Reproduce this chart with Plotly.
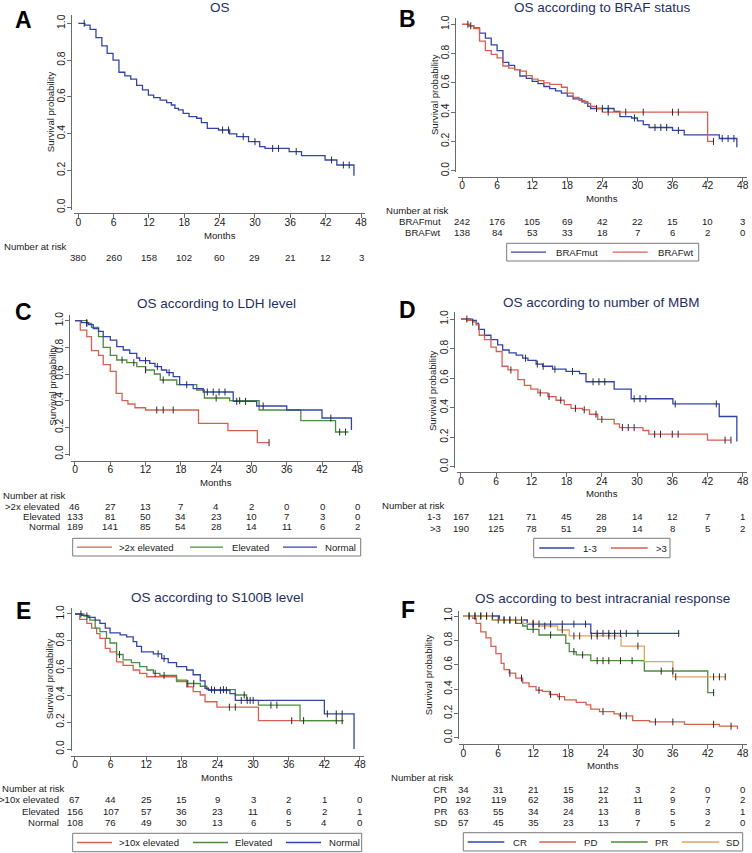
import numpy as np
import plotly.graph_objects as go

W, H = 752, 853
FONT = "Liberation Sans, Arial, Helvetica, sans-serif"
BLUE = '#3245a6'
RED = '#d6604f'
GREEN = '#4d8b3d'
ORANGE = '#e2a35e'
TITLE_C = '#1f2f5f'
INK = '#1a1a1a'
AXC = '#6a6a6a'
CENS = '#2a2a3a'

month_ticks = [0, 6, 12, 18, 24, 30, 36, 42, 48]
surv_ticks = [0.0, 0.2, 0.4, 0.6, 0.8, 1.0]
surv_labels = ['0.0', '0.2', '0.4', '0.6', '0.8', '1.0']

# ---------------- Panel A: OS ----------------
a_t = [0, 1.1, 2.0, 3.0, 4.0, 4.9, 5.9, 6.9, 7.9, 8.9, 9.9, 10.9, 11.9, 12.8, 13.9, 15.0, 15.8, 16.4, 17.0,
       17.8, 18.8, 20.1, 20.9, 21.9, 23.8, 25.7, 26.9, 28.9, 30.8, 31.7, 35.8, 37.9, 41.9, 43.9, 46.8, 46.8]
a_s = [1.0, 0.99, 0.967, 0.922, 0.877, 0.837, 0.80, 0.734, 0.714, 0.697, 0.663, 0.638, 0.61, 0.596, 0.583,
       0.569, 0.556, 0.538, 0.529, 0.511, 0.493, 0.484, 0.46, 0.429, 0.42, 0.399, 0.384, 0.357, 0.33, 0.32,
       0.303, 0.281, 0.257, 0.23, 0.23, 0.172]
a_cens = [1.0, 24.5, 25.5, 28.0, 30.0, 33.0, 34.0, 37.0, 43.0, 45.0, 46.0]
a_risk = [380, 260, 158, 102, 60, 29, 21, 12, 3]

# ---------------- Panel B: BRAF ----------------
b_mut_t = [0, 1.2, 2, 3, 4, 5, 6, 7, 8, 9, 9.9, 11, 12, 13, 14, 15, 16, 17, 18, 19, 20.5, 21.5, 22, 26, 27,
           29, 30, 31, 32, 36, 38, 44, 47, 47]
b_mut_s = [1.0, 0.99, 0.975, 0.94, 0.905, 0.86, 0.82, 0.74, 0.72, 0.69, 0.647, 0.63, 0.61, 0.595, 0.575,
           0.56, 0.545, 0.53, 0.51, 0.49, 0.47, 0.44, 0.425, 0.405, 0.37, 0.36, 0.34, 0.315, 0.295, 0.275,
           0.245, 0.22, 0.22, 0.16]
b_mut_cens = [1.0, 23.0, 24.0, 25.0, 29.5, 33.0, 34.0, 35.0, 37.0, 44.5, 45.5, 46.5]
b_wt_t = [0, 1.2, 2, 3, 4, 5, 6, 7, 8, 9, 10, 11, 12, 13, 14, 15, 17, 18, 19, 20, 21, 22, 23, 24, 42, 43]
b_wt_s = [1.0, 0.99, 0.97, 0.885, 0.82, 0.795, 0.77, 0.715, 0.70, 0.69, 0.68, 0.65, 0.625, 0.615, 0.60,
          0.59, 0.57, 0.53, 0.50, 0.48, 0.46, 0.44, 0.425, 0.40, 0.20, 0.20]
b_wt_cens = [1.5, 25.0, 28.0, 31.0, 36.0, 37.0, 43.0]
b_risk_mut = [242, 176, 105, 69, 42, 22, 15, 10, 3]
b_risk_wt = [138, 84, 53, 33, 18, 7, 6, 2, 0]

# ---------------- Panel C: LDH ----------------
c_hi_t = [0, 0.9, 2.0, 2.8, 4.0, 4.8, 6.0, 7.0, 8.0, 9.0, 10.2, 12.0, 21.0, 26.0, 31.0, 33.0]
c_hi_s = [1.0, 0.93, 0.88, 0.775, 0.74, 0.67, 0.62, 0.455, 0.40, 0.375, 0.347, 0.33, 0.23, 0.175, 0.085, 0.085]
c_hi_cens = [13.9, 15.0, 16.7, 33.0]
c_el_t = [0, 2.0, 2.8, 4.0, 4.8, 6.0, 7.1, 8.8, 10.5, 12.0, 13.5, 14.5, 17.3, 20.7, 22.0, 26.3, 31.3,
          38.4, 44.3, 46.5]
c_el_s = [1.0, 0.98, 0.95, 0.88, 0.80, 0.74, 0.705, 0.685, 0.655, 0.63, 0.60, 0.555, 0.52, 0.48, 0.42,
          0.40, 0.33, 0.25, 0.165, 0.165]
c_el_cens = [2.0, 8.0, 10.0, 12.0, 15.0, 19.0, 24.0, 28.0, 45.0, 46.0]
c_no_t = [0, 1.1, 2.3, 3.1, 4.0, 4.8, 6.0, 7.1, 8.2, 9.3, 10.5, 11.0, 12.7, 13.6, 14.7, 15.6, 16.7, 17.8,
          20.1, 21.8, 26.9, 30.9, 36.0, 42.0, 47.0, 47.0]
c_no_s = [1.0, 0.985, 0.97, 0.94, 0.92, 0.88, 0.855, 0.805, 0.78, 0.755, 0.72, 0.70, 0.68, 0.655, 0.63,
          0.61, 0.58, 0.52, 0.49, 0.465, 0.395, 0.36, 0.33, 0.27, 0.27, 0.18]
c_no_cens = [2.0, 12.0, 14.0, 16.0, 22.5, 23.5, 24.5, 25.5, 27.5, 29.0, 32.0, 43.5]
c_risk_hi = [46, 27, 13, 7, 4, 2, 0, 0, 0]
c_risk_el = [133, 81, 50, 34, 23, 10, 7, 3, 0]
c_risk_no = [189, 141, 85, 54, 28, 14, 11, 6, 2]

# ---------------- Panel D: number of MBM ----------------
d_13_t = [0, 1.7, 2.6, 3.0, 4.0, 5.1, 6.25, 7.1, 8.2, 9.4, 10.5, 11.4, 12.8, 13.9, 15.6, 17.9, 20.2, 21.3,
          26.1, 29.0, 36.1, 44.0, 47.0, 47.0]
d_13_s = [1.0, 0.99, 0.97, 0.93, 0.89, 0.86, 0.825, 0.79, 0.77, 0.755, 0.735, 0.72, 0.695, 0.68, 0.66,
          0.645, 0.63, 0.575, 0.525, 0.46, 0.425, 0.34, 0.34, 0.17]
d_13_cens = [1.0, 11.0, 13.0, 14.0, 16.0, 19.0, 22.5, 23.5, 24.5, 29.5, 30.5, 31.5, 36.5, 43.5]
d_gt3_t = [0, 1.0, 2.0, 2.6, 3.1, 4.0, 5.1, 6.0, 7.0, 8.0, 9.7, 10.8, 11.9, 13.1, 14.8, 16.2, 17.6, 18.75,
           20.7, 21.9, 23.3, 26.1, 27.0, 31.0, 32.0, 42.0, 46.0]
d_gt3_s = [1.0, 0.99, 0.98, 0.96, 0.89, 0.86, 0.81, 0.78, 0.68, 0.655, 0.59, 0.55, 0.525, 0.50, 0.475,
           0.45, 0.42, 0.395, 0.385, 0.355, 0.32, 0.29, 0.265, 0.245, 0.22, 0.18, 0.18]
d_gt3_cens = [2.0, 8.5, 13.5, 15.0, 17.0, 19.5, 21.0, 23.0, 24.0, 27.5, 28.5, 29.5, 33.0, 34.0, 36.0, 37.0,
              45.0, 46.0]
d_risk_13 = [167, 121, 71, 45, 28, 14, 12, 7, 1]
d_risk_gt3 = [190, 125, 78, 51, 29, 14, 8, 5, 2]

# ---------------- Panel E: S100B ----------------
e_hi_t = [0, 0.8, 2.0, 2.8, 3.65, 4.2, 5.1, 5.9, 7.0, 8.1, 9.8, 10.9, 12.1, 17.1, 18.8, 19.9, 21.1, 21.9,
          23.9, 30.9, 45.2]
e_hi_s = [1.0, 0.96, 0.93, 0.895, 0.855, 0.82, 0.745, 0.72, 0.645, 0.62, 0.585, 0.56, 0.535, 0.50, 0.46,
          0.425, 0.40, 0.35, 0.31, 0.21, 0.21]
e_hi_cens = [26.0, 27.0, 36.5, 45.0]
e_el_t = [0, 1.5, 2.5, 3.4, 4.2, 5.3, 5.9, 7.0, 8.1, 9.5, 10.9, 12.1, 13.2, 14.3, 17.1, 18.8, 21.1, 22.2,
          27.0, 28.9, 30.9, 37.9, 45.2]
e_el_s = [1.0, 0.985, 0.955, 0.895, 0.87, 0.82, 0.785, 0.70, 0.66, 0.64, 0.61, 0.585, 0.56, 0.545, 0.51,
          0.485, 0.465, 0.44, 0.40, 0.36, 0.325, 0.21, 0.21]
e_el_cens = [2.0, 7.5, 13.5, 15.0, 19.0, 20.0, 23.0, 25.0, 28.5, 29.5, 33.0, 34.0, 38.5, 44.0]
e_no_t = [0, 1.1, 2.2, 3.4, 4.2, 5.1, 5.9, 7.6, 8.7, 9.8, 10.4, 11.2, 13.2, 14.6, 15.7, 17.1, 18.8, 19.9,
          21.1, 21.9, 22.5, 26.1, 27.0, 42.0, 47.0, 47.0]
e_no_s = [1.0, 0.99, 0.975, 0.955, 0.93, 0.895, 0.86, 0.845, 0.83, 0.795, 0.76, 0.72, 0.705, 0.67, 0.64,
          0.61, 0.585, 0.55, 0.505, 0.45, 0.435, 0.41, 0.36, 0.26, 0.26, 0.0]
e_no_cens = [1.0, 14.0, 15.0, 23.5, 24.5, 25.5, 28.0, 29.0, 30.0, 42.5, 44.0, 45.0]
e_risk_hi = [67, 44, 25, 15, 9, 3, 2, 1, 0]
e_risk_el = [156, 107, 57, 36, 23, 11, 6, 2, 1]
e_risk_no = [108, 76, 49, 30, 13, 6, 5, 4, 0]

# ---------------- Panel F: best intracranial response ----------------
f_cr_t = [0, 6.2, 11.0, 21.9, 37.1]
f_cr_s = [1.0, 0.967, 0.934, 0.857, 0.857]
f_cr_cens = [1, 2, 3, 4, 5, 7, 8, 9, 10, 12, 13, 15, 17, 19, 21, 23, 24, 25, 26, 27, 28, 30, 37]
f_pd_t = [0, 1.6, 2.2, 3.0, 3.9, 4.75, 5.6, 6.5, 7.0, 7.9, 9.0, 10.2, 11.3, 12.5, 13.6, 14.8, 16.2, 17.4,
          19.4, 21.1, 21.9, 23.4, 25.9, 26.8, 29.1, 32.0, 38.0, 44.0, 47.1, 47.1]
f_pd_s = [1.0, 0.98, 0.94, 0.87, 0.82, 0.75, 0.69, 0.61, 0.56, 0.53, 0.49, 0.45, 0.42, 0.39, 0.38, 0.355,
          0.337, 0.31, 0.29, 0.27, 0.235, 0.215, 0.195, 0.18, 0.14, 0.13, 0.11, 0.095, 0.095, 0.07]
f_pd_cens = [8, 10, 13, 15, 16.5, 24, 27, 28, 33, 36, 43, 46]
f_pr_t = [0, 5.0, 9.0, 10.2, 11.0, 13.0, 17.6, 18.2, 19.4, 21.9, 31.1, 42.0, 43.1]
f_pr_s = [1.0, 0.967, 0.94, 0.918, 0.89, 0.844, 0.775, 0.707, 0.68, 0.633, 0.548, 0.37, 0.37]
f_pr_cens = [1, 3, 7, 8, 12, 15, 19, 20.5, 23, 24, 25, 27, 29, 34, 36, 43]
f_sd_t = [0, 5.0, 10.2, 13.0, 16.2, 18.2, 27.1, 31.1, 36.0, 45.1]
f_sd_s = [1.0, 0.967, 0.94, 0.918, 0.885, 0.836, 0.753, 0.625, 0.50, 0.50]
f_sd_cens = [2, 4, 6, 12, 14, 17, 19, 20, 22, 23, 25, 26, 30, 36.5, 43, 44, 45]
f_risk_cr = [34, 31, 21, 15, 12, 3, 2, 0, 0]
f_risk_pd = [192, 119, 62, 38, 21, 11, 9, 7, 2]
f_risk_pr = [63, 55, 34, 24, 13, 8, 5, 3, 1]
f_risk_sd = [57, 45, 35, 23, 13, 7, 5, 2, 0]

# ---------------- panel layout (pixels) ----------------
panels = [
    dict(letter='A', title='OS', x0=78.3, x48=361, y1=23.3, y0=207.3, yax=71, xax=213.3,
         title_y=8, letter_xy=(24, 20), ylab_x=50, months_y=235, header=(2, 247),
         rows_y=[257], label_right=None,
         curves=[(a_t, a_s, a_cens, BLUE)],
         risk=[('', a_risk)], legend=None),
    dict(letter='B', title='OS according to BRAF status', x0=462, x48=742.7, y1=24.3, y0=170.7,
         yax=455.3, xax=176.7, title_y=8, letter_xy=(408, 19), ylab_x=434, months_y=198.7,
         header=(384, 210.5), rows_y=[221, 232.5], label_right=443,
         curves=[(b_mut_t, b_mut_s, b_mut_cens, BLUE), (b_wt_t, b_wt_s, b_wt_cens, RED)],
         risk=[('BRAFmut', b_risk_mut), ('BRAFwt', b_risk_wt)],
         legend=dict(box=(506.7, 243.3, 698.7, 261), y=252.2,
                     items=[(511, 546, 554, 'BRAFmut', BLUE), (612.7, 647.7, 656, 'BRAFwt', RED)])),
    dict(letter='C', title='OS according to LDH level', x0=75, x48=357.3, y1=320.7, y0=454,
         yax=69.3, xax=460.7, title_y=303.3, letter_xy=(24, 311.7), ylab_x=52.5, months_y=482.3,
         header=(1, 495.5), rows_y=[506, 516.3, 526.7], label_right=62,
         curves=[(c_hi_t, c_hi_s, c_hi_cens, RED), (c_el_t, c_el_s, c_el_cens, GREEN),
                 (c_no_t, c_no_s, c_no_cens, BLUE)],
         risk=[('>2x elevated', c_risk_hi), ('Elevated', c_risk_el), ('Normal', c_risk_no)],
         legend=dict(box=(72.7, 538.3, 360.7, 556), y=547.2,
                     items=[(77, 112, 117, '>2x elevated', RED), (190, 223, 230, 'Elevated', GREEN),
                            (283, 317, 323, 'Normal', BLUE)])),
    dict(letter='D', title='OS according to number of MBM', x0=461, x48=742.7, y1=319, y0=466.7,
         yax=454.3, xax=472.3, title_y=302.7, letter_xy=(407, 310), ylab_x=432.7, months_y=493.5,
         header=(380, 505), rows_y=[516.7, 528.3], label_right=442.7,
         curves=[(d_13_t, d_13_s, d_13_cens, BLUE), (d_gt3_t, d_gt3_s, d_gt3_cens, RED)],
         risk=[('1-3', d_risk_13), ('>3', d_risk_gt3)],
         legend=dict(box=(533.7, 538.3, 670, 557.7), y=548,
                     items=[(539.3, 574.3, 581, '1-3', BLUE), (611, 647.7, 654, '>3', RED)])),
    dict(letter='E', title='OS according to S100B level', x0=75, x48=360, y1=614, y0=749,
         yax=70.5, xax=755.7, title_y=597.3, letter_xy=(23, 610.7), ylab_x=49, months_y=777.3,
         header=(0, 788.3), rows_y=[799.3, 811, 822], label_right=61,
         curves=[(e_hi_t, e_hi_s, e_hi_cens, RED), (e_el_t, e_el_s, e_el_cens, GREEN),
                 (e_no_t, e_no_s, e_no_cens, BLUE)],
         risk=[('>10x elevated', e_risk_hi), ('Elevated', e_risk_el), ('Normal', e_risk_no)],
         legend=dict(box=(72.7, 833.3, 361.7, 851.7), y=842.5,
                     items=[(77, 112, 117, '>10x elevated', RED), (193, 228, 233, 'Elevated', GREEN),
                            (286, 321, 327, 'Normal', BLUE)])),
    dict(letter='F', title='OS according to best intracranial response', x0=463.3, x48=742.7, y1=616,
         y0=737.7, yax=457.7, xax=744.3, title_y=598.3, letter_xy=(407.7, 610), ylab_x=429.3,
         months_y=765.7, header=(388.7, 777.7), rows_y=[789, 799.8, 811, 822.3], label_right=448.7,
         curves=[(f_cr_t, f_cr_s, f_cr_cens, BLUE), (f_pd_t, f_pd_s, f_pd_cens, RED),
                 (f_pr_t, f_pr_s, f_pr_cens, GREEN), (f_sd_t, f_sd_s, f_sd_cens, ORANGE)],
         risk=[('CR', f_risk_cr), ('PD', f_risk_pd), ('PR', f_risk_pr), ('SD', f_risk_sd)],
         legend=dict(box=(463.3, 832.7, 742.7, 851), y=842,
                     items=[(467.7, 504.3, 511, 'CR', BLUE), (539.3, 576, 581.7, 'PD', RED),
                            (611, 647.7, 653, 'PR', GREEN), (682, 719.3, 724.3, 'SD', ORANGE)])),
]


def fx(px):
    return px / W


def fy(py):
    return 1 - py / H


def step_at(t, s, c):
    t = np.asarray(t, dtype=float)
    s = np.asarray(s, dtype=float)
    idx = np.searchsorted(t, np.asarray(c, dtype=float), side='right') - 1
    idx = np.clip(idx, 0, len(s) - 1)
    return s[idx]


fig = go.Figure()
annotations = []
shapes = []
layout_axes = {}
XR = [-0.73, 48.7]
YR = [-0.012, 1.045]

small = dict(family=FONT, size=9.6, color=INK)

for i, p in enumerate(panels, start=1):
    sfx = '' if i == 1 else str(i)
    xa, ya = 'x' + sfx, 'y' + sfx
    pxpm = (p['x48'] - p['x0']) / 48.0
    pxpu = p['y0'] - p['y1']
    xd = [fx(p['x0'] + XR[0] * pxpm), fx(p['x0'] + XR[1] * pxpm)]
    ytop = p['y1'] - (YR[1] - 1) * pxpu
    ybot = p['y0'] - YR[0] * pxpu
    yd = [fy(ybot), fy(ytop)]
    layout_axes['xaxis' + sfx] = dict(
        domain=xd, anchor='free', position=fy(p['xax']), range=XR, tickvals=month_ticks,
        ticks='outside', ticklen=4, tickcolor=AXC, showline=True, linecolor=AXC, linewidth=1,
        showgrid=False, zeroline=False, automargin=False, ticklabelstandoff=-5,
        tickfont=dict(family=FONT, size=10.3, color=INK))
    layout_axes['yaxis' + sfx] = dict(
        domain=yd, anchor='free', position=fx(p['yax']), range=YR, tickvals=surv_ticks,
        ticktext=surv_labels, tickangle=-90, ticks='outside', ticklen=4, tickcolor=AXC,
        showline=True, linecolor=AXC, linewidth=1, showgrid=False, zeroline=False, automargin=False,
        ticklabelstandoff=-2,
        tickfont=dict(family=FONT, size=10.3, color=INK))

    for (t, s, cens, col) in p['curves']:
        fig.add_trace(go.Scatter(x=t, y=s, mode='lines', line=dict(color=col, width=1.3, shape='hv'),
                                 xaxis=xa, yaxis=ya, showlegend=False, hoverinfo='skip'))
    for (t, s, cens, col) in p['curves']:
        fig.add_trace(go.Scatter(x=cens, y=step_at(t, s, cens), mode='markers',
                                 marker=dict(symbol='line-ns', size=5, line=dict(color=CENS, width=1)),
                                 xaxis=xa, yaxis=ya, showlegend=False, hoverinfo='skip'))

    # title and letter
    cx = (xd[0] + xd[1]) / 2
    annotations.append(dict(text=p['title'], x=cx, y=fy(p['title_y']), xref='paper', yref='paper',
                            xanchor='center', yanchor='middle', showarrow=False,
                            font=dict(family=FONT, size=13.5, color=TITLE_C)))
    annotations.append(dict(text='<b>' + p['letter'] + '</b>', x=fx(p['letter_xy'][0]),
                            y=fy(p['letter_xy'][1]), xref='paper', yref='paper', xanchor='center',
                            yanchor='middle', showarrow=False, font=dict(family=FONT, size=23, color='#000')))
    # axis titles
    annotations.append(dict(text='Survival probability', x=fx(p['ylab_x']), y=(yd[0] + yd[1]) / 2,
                            xref='paper', yref='paper', xanchor='center', yanchor='middle',
                            textangle=-90, showarrow=False, font=small))
    annotations.append(dict(text='Months', x=cx, y=fy(p['months_y']), xref='paper', yref='paper',
                            xanchor='center', yanchor='middle', showarrow=False, font=small))
    # number at risk
    annotations.append(dict(text='Number at risk', x=fx(p['header'][0]), y=fy(p['header'][1]),
                            xref='paper', yref='paper', xanchor='left', yanchor='middle',
                            showarrow=False, font=small))
    for (label, vals), ry in zip(p['risk'], p['rows_y']):
        if label and p['label_right'] is not None:
            annotations.append(dict(text=label.replace('>', '&gt;'), x=fx(p['label_right']), y=fy(ry),
                                    xref='paper', yref='paper', xanchor='right', yanchor='middle',
                                    showarrow=False, font=small))
        for mt, v in zip(month_ticks, vals):
            annotations.append(dict(text=str(v), x=mt, y=fy(ry), xref=xa, yref='paper',
                                    xanchor='center', yanchor='middle', showarrow=False, font=small))
    # legend
    lg = p['legend']
    if lg:
        bx0, by0, bx1, by1 = lg['box']
        shapes.append(dict(type='rect', xref='paper', yref='paper', x0=fx(bx0), x1=fx(bx1),
                           y0=fy(by1), y1=fy(by0), line=dict(color='#7a7a7a', width=1),
                           fillcolor='white', layer='above'))
        for (lx0, lx1, tx, lab, col) in lg['items']:
            shapes.append(dict(type='line', xref='paper', yref='paper', x0=fx(lx0), x1=fx(lx1),
                               y0=fy(lg['y']), y1=fy(lg['y']), line=dict(color=col, width=1.3),
                               layer='above'))
            annotations.append(dict(text=lab.replace('>', '&gt;'), x=fx(tx), y=fy(lg['y']),
                                    xref='paper', yref='paper', xanchor='left', yanchor='middle',
                                    showarrow=False, font=small))

fig.update_layout(
    width=W, height=H, margin=dict(l=0, r=0, t=0, b=0),
    paper_bgcolor='white', plot_bgcolor='white', showlegend=False,
    font=dict(family=FONT, color=INK),
    annotations=annotations, shapes=shapes, **layout_axes)

fig.write_html("out.html", config={'displayModeBar': False},
               post_script="document.body.style.margin='0px';document.body.style.padding='0px';"
                           "document.documentElement.style.overflow='hidden';"
                           "document.body.style.overflow='hidden';")
